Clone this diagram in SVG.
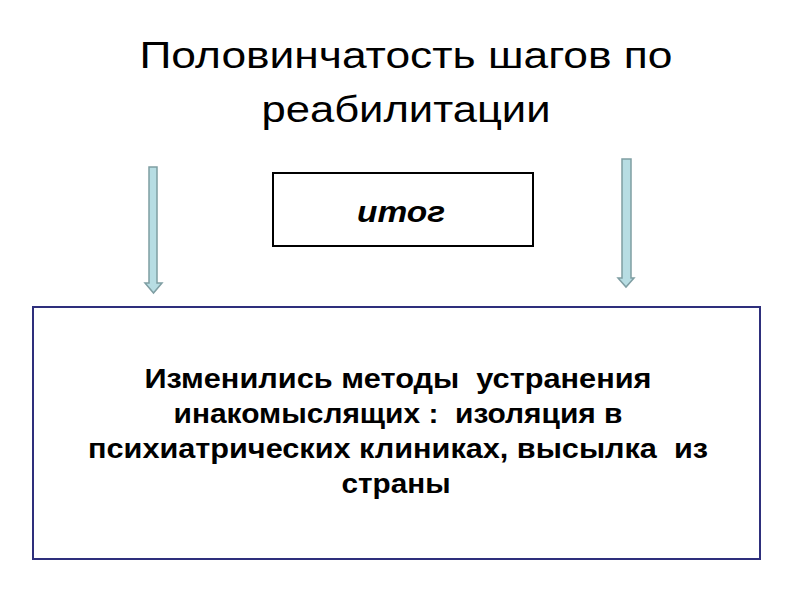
<svg xmlns="http://www.w3.org/2000/svg" width="800" height="600" viewBox="0 0 800 600">
<style>
.title{font-family:"Liberation Sans",Arial,sans-serif;font-size:36px;fill:#000;text-anchor:middle}
.body{font-family:"Liberation Sans",Arial,sans-serif;font-size:28px;font-weight:bold;fill:#000;text-anchor:middle}
.arrow{fill:#b7dde3;stroke:#7f9ea3;stroke-width:1.5}
</style>
<rect width="800" height="600" fill="#fff"/>
<g id="title">
<text class="title" x="406" y="68" textLength="533" lengthAdjust="spacingAndGlyphs">Половинчатость шагов по</text>
<text class="title" x="406" y="122" textLength="289" lengthAdjust="spacingAndGlyphs">реабилитации</text>
</g>
<g id="connectors">
<path class="arrow" d="M149,167 H157 V283 H162 L153.5,293 L145,283 H149 Z"/>
<path class="arrow" d="M622,159 H631 V278 H634 L626,287 L618,278 H622 Z"/>
</g>
<g id="itog">
<rect x="273" y="173" width="260" height="73" fill="#fff" stroke="#000" stroke-width="2"/>
<text x="401" y="222" font-family="Liberation Sans,Arial,sans-serif" font-size="29" font-weight="bold" font-style="italic" text-anchor="middle" textLength="88" lengthAdjust="spacingAndGlyphs">итог</text>
</g>
<g id="result">
<rect x="33" y="307" width="727" height="252" fill="#fff" stroke="#2e2f7c" stroke-width="2"/>
<text class="body" x="398" y="388" xml:space="preserve" textLength="507" lengthAdjust="spacingAndGlyphs">Изменились методы  устранения</text>
<text class="body" x="398" y="423" xml:space="preserve" textLength="449" lengthAdjust="spacingAndGlyphs">инакомыслящих :  изоляция в</text>
<text class="body" x="398" y="458" xml:space="preserve" textLength="620" lengthAdjust="spacingAndGlyphs">психиатрических клиниках, высылка  из</text>
<text class="body" x="396" y="493" textLength="109" lengthAdjust="spacingAndGlyphs">страны</text>
</g>
</svg>
